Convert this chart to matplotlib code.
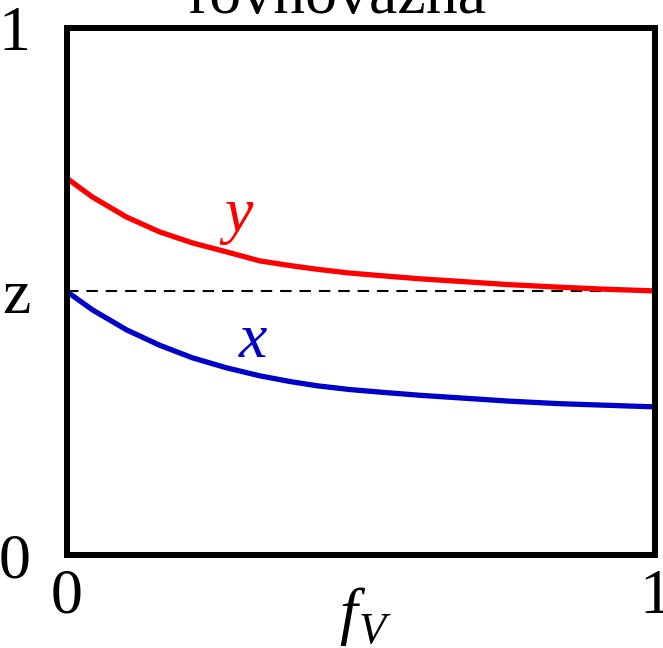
import matplotlib
matplotlib.use("Agg")
from matplotlib import pyplot as plt
from matplotlib import font_manager as fm

# values
f_v = [0, 0.044, 0.102, 0.158, 0.214, 0.272, 0.328, 0.38, 0.426, 0.48, 0.533,
       0.60, 0.669, 0.75, 0.839, 0.92, 1.0]
y_vap = [0.715, 0.679, 0.641, 0.613, 0.592, 0.575, 0.558, 0.549, 0.542, 0.535, 0.530,
         0.524, 0.519, 0.513, 0.508, 0.504, 0.501]
x_liq = [0.500, 0.465, 0.427, 0.398, 0.374, 0.355, 0.340, 0.329, 0.321, 0.314, 0.309,
         0.303, 0.298, 0.292, 0.287, 0.284, 0.281]
z = 0.5


def font_file(name):
    for f in fm.fontManager.ttflist:
        if f.fname.endswith(name):
            return f.fname
    return None


reg_path = font_file("LiberationSerif-Regular.ttf")
it_path = font_file("LiberationSerif-Italic.ttf")
rm = fm.FontProperties(fname=reg_path, size=46) if reg_path else fm.FontProperties(family="serif", size=46)
it = fm.FontProperties(fname=it_path, size=46) if it_path else fm.FontProperties(family="serif", style="italic", size=46)

plt.rcParams["mathtext.fontset"] = "custom"
plt.rcParams["mathtext.rm"] = rm.get_name()
plt.rcParams["mathtext.it"] = it.get_name() + ":italic"

fig = plt.figure(figsize=(6.63, 6.48), dpi=100)
ax = fig.add_axes([0.1005, 0.1435, 0.8875, 0.8135])

ax.plot([0, 1], [z, z], color="black", lw=1.5, linestyle=(0, (5.5, 3.8)))
ax.plot(f_v, y_vap, color="#ff0000", lw=3.8, solid_capstyle="butt",
        solid_joinstyle="round", clip_on=False)
ax.plot(f_v, x_liq, color="#0000c8", lw=3.8, solid_capstyle="butt",
        solid_joinstyle="round", clip_on=False)

ax.text(0.292, 0.615, "y", color="#ff0000", fontproperties=it,
        ha="center", va="baseline")
ax.text(0.316, 0.376, "x", color="#0000c8", fontproperties=it,
        ha="center", va="baseline")

ax.set_xlim(0, 1)
ax.set_ylim(0, 1)
ax.set_xticks([0, 1])
ax.set_xticklabels(["0", "1"], fontproperties=rm)
ax.set_yticks([0, z, 1])
ax.set_yticklabels(["0", "z", "1"], fontproperties=rm)
ax.tick_params(length=0)
ax.tick_params(axis="y", pad=26)
ax.tick_params(axis="x", pad=10)
for s in ax.spines.values():
    s.set_linewidth(4.3)

# f with subscript V, italic
fig.text(348 / 663, 1 - 632 / 648, "f", fontproperties=it, ha="center", va="baseline")
fig.text(372 / 663, 1 - 643 / 648, "V", fontproperties=it.copy(), ha="center", va="baseline",
         fontsize=32)
fig.text(338 / 663, 1 - 13 / 648, "rovnovážná", fontproperties=rm,
         ha="center", va="baseline")

fig.savefig("out.png", dpi=100)
